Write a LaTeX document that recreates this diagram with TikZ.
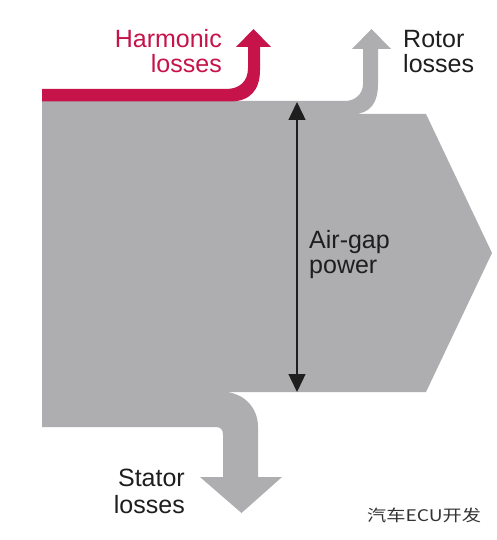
\documentclass[tikz,border=0pt]{standalone}
\usepackage{fontspec}
\usepackage{graphicx}
\usetikzlibrary{arrows.meta}
\setmainfont{Liberation Sans}
\newfontfamily\cjk{Noto Sans CJK SC}
\definecolor{flowgrey}{RGB}{174,174,177}
\definecolor{harmred}{RGB}{198,20,74}
\definecolor{txt}{RGB}{30,30,30}
\begin{document}
\begin{tikzpicture}[x=1pt,y=-1pt,
  lbl/.style={inner sep=0pt,font=\fontsize{25}{28}\selectfont,text=txt},
  redlbl/.style={lbl,text=harmred},
  dimarrow/.style={draw=txt,line width=1.4pt,{Triangle[width=17pt,length=18pt]}-{Triangle[width=17pt,length=18pt]}}]
\useasboundingbox (0,0) rectangle (496,540);
\fill[white] (0,0) rectangle (496,540);
% main grey flow with rotor and stator branches
\fill[flowgrey] (42,101) -- (345,101)
  .. controls (355,101) and (363,94) .. (363,84)
  -- (363,49) -- (352,49) -- (371.5,29) -- (391,49) -- (378,49)
  -- (378,84) .. controls (378,103) and (370,114) .. (353,114)
  -- (426,114) -- (492,253) -- (426,392) -- (223,392)
  .. controls (243,392) and (258,407) .. (258,427)
  -- (258,477) -- (282,477) -- (241.5,513) -- (200,477) -- (223,477)
  -- (223,435) .. controls (223,430) and (221,427) .. (216,427)
  -- (42,427) -- cycle;
% harmonic losses (red)
\fill[harmred] (42,89) -- (226,89)
  .. controls (240,89) and (248,81) .. (248,68)
  -- (248,47) -- (236,47) -- (253.5,29) -- (271,47) -- (260,47)
  -- (260,70) .. controls (260,90) and (250,101.5) .. (230,101.5)
  -- (42,101.5) -- cycle;
% air-gap power dimension arrow
\coordinate (gtop) at (297,102);
\coordinate (gbot) at (297,392);
\draw[dimarrow] (gtop) -- (gbot);
% labels
\node[redlbl,anchor=base east] (harm1) at (222,48) {Harmonic};
\node[redlbl,anchor=base east] (harm2) at (222,73) {losses};
\node[lbl,anchor=base west] (rot1) at (403,48) {Rotor};
\node[lbl,anchor=base west] (rot2) at (403,73) {losses};
\node[lbl,anchor=base west] (air1) at (309,248) {Air-gap};
\node[lbl,anchor=base west] (air2) at (309,273) {power};
\node[lbl,anchor=base east] (sta1) at (185,486) {Stator};
\node[lbl,anchor=base east] (sta2) at (185,513) {losses};
\node[inner sep=0pt,anchor=base west,font=\cjk\fontsize{16}{19}\selectfont,text=black!80] (wm) at (367,521) {\scalebox{1.2}[1]{汽车ECU开发}};
\end{tikzpicture}
\end{document}
